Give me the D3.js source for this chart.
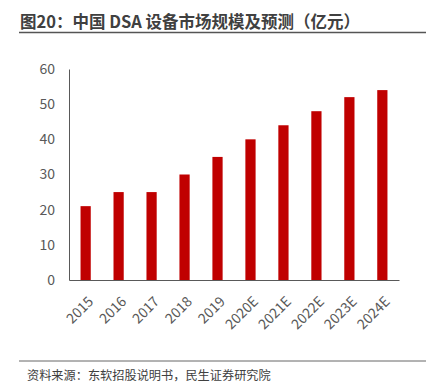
<!DOCTYPE html>
<html>
<head>
<meta charset="utf-8">
<script src="https://cdn.jsdelivr.net/npm/d3@7"></script>
<style>
  body { margin: 0; background: #fff; }
  text { font-family: "Noto Sans CJK SC", "Open Sans", sans-serif; }
</style>
</head>
<body>
<script>
// data
const years = ["2015", "2016", "2017", "2018", "2019", "2020E", "2021E", "2022E", "2023E", "2024E"]
const market = [21, 25, 25, 30, 35, 40, 44, 48, 52, 54]
const yTicks = [0, 10, 20, 30, 40, 50, 60]

const width = 437, height = 387
const margin = ({top: 69, right: 38, bottom: 107, left: 69})

const svg = d3.select("body").append("svg")
  .attr("width", width)
  .attr("height", height)

// title + rule
svg.append("text")
  .attr("x", 20)
  .attr("y", 28)
  .attr("font-size", 16.5)
  .attr("font-weight", "bold")
  .attr("fill", "#404040")
  .text("图20：中国 DSA 设备市场规模及预测（亿元）")

svg.append("line")
  .attr("x1", 19).attr("x2", 426)
  .attr("y1", 32.5).attr("y2", 32.5)
  .attr("stroke", "#555").attr("stroke-width", 1.5)

const x = d3.scaleBand()
  .domain(years)
  .range([margin.left, width - margin.right])
  .paddingInner(0.69)
  .paddingOuter(0.35)

const y = d3.scaleLinear()
  .domain([0, 60])
  .range([height - margin.bottom, margin.top])

// bars
svg.append("g")
  .selectAll("rect")
  .data(years)
  .join("rect")
    .attr("x", d => x(d))
    .attr("y", (d, i) => y(market[i]))
    .attr("width", x.bandwidth())
    .attr("height", (d, i) => y(0) - y(market[i]))
    .attr("fill", "#c00000")

// y axis
svg.append("g")
  .attr("transform", `translate(${margin.left},0)`)
  .call(d3.axisLeft(y).tickValues(yTicks).tickSize(0).tickPadding(14))
  .call(g => g.select(".domain").attr("stroke", "#595959"))
  .call(g => g.selectAll("text").attr("font-size", 14).attr("fill", "#595959")
    .attr("font-family", "'Open Sans', sans-serif"))

// x axis
svg.append("g")
  .attr("transform", `translate(0,${y(0)})`)
  .call(d3.axisBottom(x).tickSize(0).tickPadding(10)
    .tickSizeOuter(0))
  .call(g => g.select(".domain").attr("stroke", "#595959").attr("stroke-width", 1.2))
  .call(g => g.selectAll("text")
    .attr("font-size", 14)
    .attr("fill", "#595959")
    .attr("font-family", "'Open Sans', sans-serif")
    .attr("text-anchor", "end")
    .attr("dy", "0.35em")
    .attr("transform", "translate(-2,12) rotate(-45)"))

// footer
svg.append("line")
  .attr("x1", 19).attr("x2", 426)
  .attr("y1", 361).attr("y2", 361)
  .attr("stroke", "#666").attr("stroke-width", 1)

svg.append("text")
  .attr("x", 27)
  .attr("y", 380)
  .attr("font-size", 12.2)
  .attr("fill", "#404040")
  .text("资料来源：东软招股说明书，民生证券研究院")
</script>
</body>
</html>
